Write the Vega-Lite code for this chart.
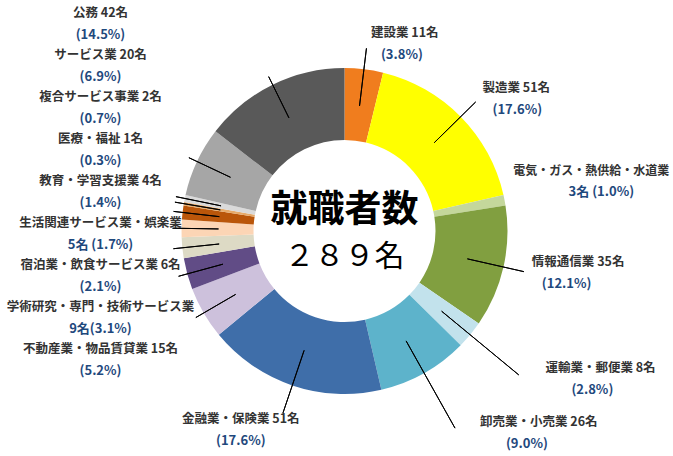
{
  "$schema": "https://vega.github.io/schema/vega-lite/v6.json",
  "width": 657,
  "height": 450,
  "padding": {"left": 16, "top": 6, "right": 0, "bottom": 0},
  "autosize": {"type": "none"},
  "background": "white",
  "config": {"view": {"stroke": null}, "font": "Noto Sans CJK JP"},
  "data": {
    "values": [
      {"順": 1, "業種": "建設業", "人数": 11, "行1": "建設業 11名", "行2": "(3.8%)"},
      {"順": 2, "業種": "製造業", "人数": 51, "行1": "製造業 51名", "行2": "(17.6%)"},
      {"順": 3, "業種": "電気・ガス・熱供給・水道業", "人数": 3, "行1": "電気・ガス・熱供給・水道業", "行2": "3名 (1.0%)"},
      {"順": 4, "業種": "情報通信業", "人数": 35, "行1": "情報通信業 35名", "行2": "(12.1%)"},
      {"順": 5, "業種": "運輸業・郵便業", "人数": 8, "行1": "運輸業・郵便業 8名", "行2": "(2.8%)"},
      {"順": 6, "業種": "卸売業・小売業", "人数": 26, "行1": "卸売業・小売業 26名", "行2": "(9.0%)"},
      {"順": 7, "業種": "金融業・保険業", "人数": 51, "行1": "金融業・保険業 51名", "行2": "(17.6%)"},
      {"順": 8, "業種": "不動産業・物品賃貸業", "人数": 15, "行1": "不動産業・物品賃貸業 15名", "行2": "(5.2%)"},
      {"順": 9, "業種": "学術研究・専門・技術サービス業", "人数": 9, "行1": "学術研究・専門・技術サービス業", "行2": "9名(3.1%)"},
      {"順": 10, "業種": "宿泊業・飲食サービス業", "人数": 6, "行1": "宿泊業・飲食サービス業 6名", "行2": "(2.1%)"},
      {"順": 11, "業種": "生活関連サービス業・娯楽業", "人数": 5, "行1": "生活関連サービス業・娯楽業", "行2": "5名 (1.7%)"},
      {"順": 12, "業種": "教育・学習支援業", "人数": 4, "行1": "教育・学習支援業 4名", "行2": "(1.4%)"},
      {"順": 13, "業種": "医療・福祉", "人数": 1, "行1": "医療・福祉 1名", "行2": "(0.3%)"},
      {"順": 14, "業種": "複合サービス事業", "人数": 2, "行1": "複合サービス事業 2名", "行2": "(0.7%)"},
      {"順": 15, "業種": "サービス業", "人数": 20, "行1": "サービス業 20名", "行2": "(6.9%)"},
      {"順": 16, "業種": "公務", "人数": 42, "行1": "公務 42名", "行2": "(14.5%)"}
    ]
  },
  "layer": [
    {
      "mark": {"type": "arc", "outerRadius": 163, "innerRadius": 91},
      "encoding": {
        "theta": {"field": "人数", "type": "quantitative", "stack": true},
        "order": {"field": "順", "type": "quantitative"},
        "color": {
          "field": "業種", "type": "nominal", "legend": null,
          "scale": {
            "domain": ["建設業", "製造業", "電気・ガス・熱供給・水道業", "情報通信業", "運輸業・郵便業", "卸売業・小売業", "金融業・保険業", "不動産業・物品賃貸業", "学術研究・専門・技術サービス業", "宿泊業・飲食サービス業", "生活関連サービス業・娯楽業", "教育・学習支援業", "医療・福祉", "複合サービス事業", "サービス業", "公務"],
            "range": ["#F07D1E", "#FFFF00", "#C4D79B", "#819F40", "#C2E2EC", "#5DB3CB", "#3F6EA9", "#CDC1DC", "#614C86", "#DDDAC5", "#FCD5B5", "#BA560A", "#E6AA6A", "#DADADA", "#A6A6A6", "#595959"]
          }
        }
      }
    },
    {
      "mark": {"type": "arc", "innerRadius": 126, "outerRadius": 184, "padAngle": 3, "filled": false, "stroke": "#000000", "strokeWidth": 1},
      "encoding": {
        "theta": {"field": "人数", "type": "quantitative", "stack": true},
        "order": {"field": "順", "type": "quantitative"},
        "detail": {"field": "業種", "type": "nominal"},
        "strokeOpacity": {"condition": {"test": {"field": "業種", "oneOf": ["建設業", "製造業", "情報通信業"]}, "value": 1}, "value": 0}
      }
    },
    {
      "mark": {"type": "arc", "innerRadius": 126, "outerRadius": 226, "padAngle": 3, "filled": false, "stroke": "#000000", "strokeWidth": 1},
      "encoding": {
        "theta": {"field": "人数", "type": "quantitative", "stack": true},
        "order": {"field": "順", "type": "quantitative"},
        "detail": {"field": "業種", "type": "nominal"},
        "strokeOpacity": {"condition": {"test": {"field": "業種", "oneOf": ["運輸業・郵便業", "卸売業・小売業"]}, "value": 1}, "value": 0}
      }
    },
    {
      "mark": {"type": "arc", "innerRadius": 126, "outerRadius": 192, "padAngle": 3, "filled": false, "stroke": "#000000", "strokeWidth": 1},
      "encoding": {
        "theta": {"field": "人数", "type": "quantitative", "stack": true},
        "order": {"field": "順", "type": "quantitative"},
        "detail": {"field": "業種", "type": "nominal"},
        "strokeOpacity": {"condition": {"test": {"field": "業種", "oneOf": ["金融業・保険業"]}, "value": 1}, "value": 0}
      }
    },
    {
      "mark": {"type": "arc", "innerRadius": 126, "outerRadius": 172, "padAngle": 3, "filled": false, "stroke": "#000000", "strokeWidth": 1},
      "encoding": {
        "theta": {"field": "人数", "type": "quantitative", "stack": true},
        "order": {"field": "順", "type": "quantitative"},
        "detail": {"field": "業種", "type": "nominal"},
        "strokeOpacity": {"condition": {"test": {"field": "業種", "oneOf": ["不動産業・物品賃貸業", "学術研究・専門・技術サービス業", "宿泊業・飲食サービス業", "生活関連サービス業・娯楽業", "教育・学習支援業", "医療・福祉", "複合サービス事業", "サービス業", "公務"]}, "value": 1}, "value": 0}
      }
    },
    {
      "mark": {"type": "text", "radius": 188, "align": "left", "baseline": "middle", "dx": 4, "dy": -11, "fontSize": 12.5, "fontWeight": "bold", "color": "#333333"},
      "encoding": {
        "theta": {"field": "人数", "type": "quantitative", "stack": true},
        "order": {"field": "順", "type": "quantitative"},
        "detail": {"field": "業種", "type": "nominal"},
        "text": {"condition": {"test": {"field": "業種", "oneOf": ["建設業", "製造業", "情報通信業"]}, "field": "行1"}, "value": ""}
      }
    },
    {
      "mark": {"type": "text", "radius": 188, "align": "left", "baseline": "middle", "dx": 14, "dy": 11, "fontSize": 13, "fontWeight": "bold", "color": "#1F497D"},
      "encoding": {
        "theta": {"field": "人数", "type": "quantitative", "stack": true},
        "order": {"field": "順", "type": "quantitative"},
        "detail": {"field": "業種", "type": "nominal"},
        "text": {"condition": {"test": {"field": "業種", "oneOf": ["建設業", "製造業", "情報通信業"]}, "field": "行2"}, "value": ""}
      }
    },
    {
      "mark": {"type": "text", "radius": 176, "align": "center", "baseline": "middle", "dx": 74, "dy": -27, "fontSize": 12, "fontWeight": "bold", "color": "#333333"},
      "encoding": {
        "theta": {"field": "人数", "type": "quantitative", "stack": true},
        "order": {"field": "順", "type": "quantitative"},
        "detail": {"field": "業種", "type": "nominal"},
        "text": {"condition": {"test": {"field": "業種", "oneOf": ["電気・ガス・熱供給・水道業"]}, "field": "行1"}, "value": ""}
      }
    },
    {
      "mark": {"type": "text", "radius": 176, "align": "center", "baseline": "middle", "dx": 84, "dy": -6, "fontSize": 13, "fontWeight": "bold", "color": "#1F497D"},
      "encoding": {
        "theta": {"field": "人数", "type": "quantitative", "stack": true},
        "order": {"field": "順", "type": "quantitative"},
        "detail": {"field": "業種", "type": "nominal"},
        "text": {"condition": {"test": {"field": "業種", "oneOf": ["電気・ガス・熱供給・水道業"]}, "field": "行2"}, "value": ""}
      }
    },
    {
      "mark": {"type": "text", "radius": 232, "align": "left", "baseline": "middle", "dx": 22, "dy": -11, "fontSize": 12.5, "fontWeight": "bold", "color": "#333333"},
      "encoding": {
        "theta": {"field": "人数", "type": "quantitative", "stack": true},
        "order": {"field": "順", "type": "quantitative"},
        "detail": {"field": "業種", "type": "nominal"},
        "text": {"condition": {"test": {"field": "業種", "oneOf": ["運輸業・郵便業", "卸売業・小売業"]}, "field": "行1"}, "value": ""}
      }
    },
    {
      "mark": {"type": "text", "radius": 232, "align": "left", "baseline": "middle", "dx": 48, "dy": 11, "fontSize": 13, "fontWeight": "bold", "color": "#1F497D"},
      "encoding": {
        "theta": {"field": "人数", "type": "quantitative", "stack": true},
        "order": {"field": "順", "type": "quantitative"},
        "detail": {"field": "業種", "type": "nominal"},
        "text": {"condition": {"test": {"field": "業種", "oneOf": ["運輸業・郵便業", "卸売業・小売業"]}, "field": "行2"}, "value": ""}
      }
    },
    {
      "mark": {"type": "text", "radius": 205, "align": "center", "baseline": "middle", "dx": -38, "dy": -6, "fontSize": 12.5, "fontWeight": "bold", "color": "#333333"},
      "encoding": {
        "theta": {"field": "人数", "type": "quantitative", "stack": true},
        "order": {"field": "順", "type": "quantitative"},
        "detail": {"field": "業種", "type": "nominal"},
        "text": {"condition": {"test": {"field": "業種", "oneOf": ["金融業・保険業"]}, "field": "行1"}, "value": ""}
      }
    },
    {
      "mark": {"type": "text", "radius": 205, "align": "center", "baseline": "middle", "dx": -38, "dy": 16, "fontSize": 13, "fontWeight": "bold", "color": "#1F497D"},
      "encoding": {
        "theta": {"field": "人数", "type": "quantitative", "stack": true},
        "order": {"field": "順", "type": "quantitative"},
        "detail": {"field": "業種", "type": "nominal"},
        "text": {"condition": {"test": {"field": "業種", "oneOf": ["金融業・保険業"]}, "field": "行2"}, "value": ""}
      }
    },
    {
      "transform": [{"filter": {"field": "業種", "oneOf": ["公務", "サービス業", "複合サービス事業", "医療・福祉", "教育・学習支援業", "生活関連サービス業・娯楽業", "宿泊業・飲食サービス業", "学術研究・専門・技術サービス業", "不動産業・物品賃貸業"]}}],
      "mark": {"type": "text", "align": "center", "baseline": "middle", "dx": -244, "dy": -11, "fontSize": 12.5, "fontWeight": "bold", "color": "#333333"},
      "encoding": {
        "y": {"field": "業種", "type": "nominal", "axis": null, "scale": {"type": "point", "padding": 0, "range": [18, 354], "domain": ["公務", "サービス業", "複合サービス事業", "医療・福祉", "教育・学習支援業", "生活関連サービス業・娯楽業", "宿泊業・飲食サービス業", "学術研究・専門・技術サービス業", "不動産業・物品賃貸業"]}},
        "text": {"field": "行1"}
      }
    },
    {
      "transform": [{"filter": {"field": "業種", "oneOf": ["公務", "サービス業", "複合サービス事業", "医療・福祉", "教育・学習支援業", "生活関連サービス業・娯楽業", "宿泊業・飲食サービス業", "学術研究・専門・技術サービス業", "不動産業・物品賃貸業"]}}],
      "mark": {"type": "text", "align": "center", "baseline": "middle", "dx": -244, "dy": 11, "fontSize": 13, "fontWeight": "bold", "color": "#1F497D"},
      "encoding": {
        "y": {"field": "業種", "type": "nominal", "axis": null},
        "text": {"field": "行2"}
      }
    },
    {
      "data": {"values": [{"見出し": "就職者数", "合計": "２８９名"}]},
      "mark": {"type": "text", "align": "center", "baseline": "middle", "dy": -20, "fontSize": 37, "fontWeight": "bold", "color": "#000000"},
      "encoding": {"text": {"field": "見出し"}}
    },
    {
      "data": {"values": [{"見出し": "就職者数", "合計": "２８９名"}]},
      "mark": {"type": "text", "align": "center", "baseline": "middle", "dy": 26, "fontSize": 30, "color": "#000000"},
      "encoding": {"text": {"field": "合計"}}
    }
  ]
}
